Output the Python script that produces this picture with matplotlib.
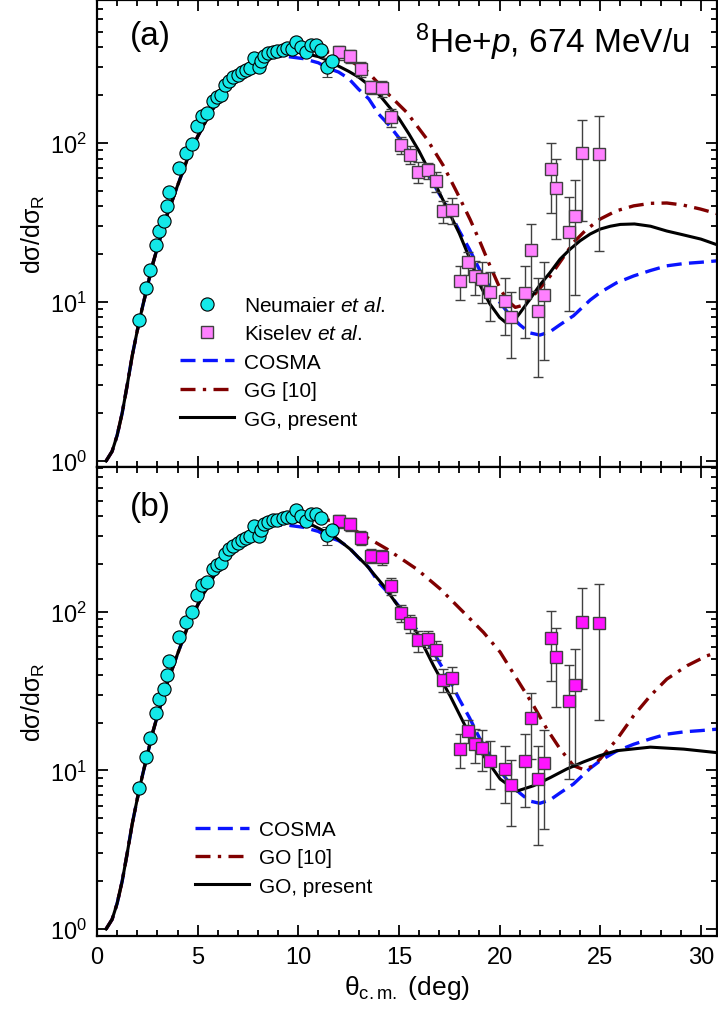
import numpy as np
import matplotlib
matplotlib.use("Agg")
import matplotlib.pyplot as plt
from matplotlib.lines import Line2D
from matplotlib.ticker import LogLocator, LogFormatterMathtext, MultipleLocator, NullFormatter

plt.rcParams['font.family'] = ['Liberation Sans', 'DejaVu Sans']
plt.rcParams['mathtext.fontset'] = 'custom'
plt.rcParams['mathtext.rm'] = 'Liberation Sans'
plt.rcParams['mathtext.it'] = 'Liberation Sans:italic'

# Neumaier et al. data (theta in deg, ratio to Rutherford)
neu_theta = [2.10, 2.44, 2.63, 2.92, 3.10, 3.31, 3.50, 3.60, 4.06, 4.44, 4.72, 4.97,
             5.22, 5.47, 5.75, 5.95, 6.16, 6.36, 6.58, 6.78, 6.99, 7.19, 7.39, 7.60,
             7.80, 8.04, 8.14, 8.30, 8.51, 8.73, 8.96, 9.23, 9.46, 9.67, 9.89, 10.12,
             10.39, 10.62, 10.88, 11.12, 11.42, 11.65]
neu_ratio = [7.7, 12.2, 15.9, 22.9, 28.1, 32.5, 40, 49, 69.6, 86.5, 99, 128,
             148, 154, 185, 196, 201, 232, 247, 259, 270, 281, 289, 299,
             344, 301, 328, 354, 368, 377, 379, 387, 394, 392, 434, 403,
             375, 413, 413, 387, 302, 328]
neu_err = [0, 0, 0, 0, 0, 0, 0, 0, 0, 0, 0, 0,
           0, 0, 0, 0, 0, 0, 0, 0, 0, 0, 0, 0,
           0, 0, 0, 0, 0, 0, 0, 0, 0, 0, 0, 0,
           0, 0, 0, 0, 40, 0]

# Kiselev et al. data
kis_theta = [12.03, 12.59, 13.11, 13.63, 14.15, 14.63, 15.09, 15.56, 15.97, 16.42,
             16.82, 17.21, 17.66, 18.04, 18.42, 18.79, 19.15, 19.53, 20.25, 20.58,
             21.24, 21.55, 21.89, 22.23, 22.55, 22.81, 23.44, 23.74, 24.07, 24.92]
kis_ratio = [372, 354, 292, 225, 221, 145, 97.5, 84.4, 65.9, 67.4,
             57.4, 37.3, 37.9, 13.6, 17.8, 14.6, 13.9, 11.5, 10.2, 8.05,
             11.4, 21.3, 8.8, 11.1, 68.6, 52.1, 27.4, 34.6, 86.5, 84.9]
kis_err = [37, 33, 30, 22, 25, 18, 12, 11, 10, 8,
           8, 6, 7, 3.3, 3, 3.5, 4, 3.9, 4, 3.6,
           5.5, 9.5, 5.4, 6.8, 32, 27, 18.6, 23.6, 54, 64]

# rising part shared by all calculations
rise_theta = [0.45, 0.75, 1.0, 1.25, 1.5, 1.75, 2.0, 2.25, 2.5, 2.75, 3.0, 3.25, 3.5,
              3.75, 4.0, 4.5, 5.0, 5.5, 6.0, 6.5, 7.0, 7.5, 8.0, 8.5]
rise_ratio = [1.0, 1.15, 1.45, 2.0, 3.0, 4.6, 6.6, 9.2, 12.5, 17, 22, 28, 36,
              44, 54, 80, 110, 145, 185, 225, 265, 300, 330, 355]

cosma_theta = [9.0, 9.5, 10.25, 11.0, 11.5, 12.0, 12.5, 13.0, 13.5, 14.0, 14.5, 15.0,
               15.5, 16.0, 16.5, 17.0, 17.38, 18.0, 18.5, 19.0, 19.5, 20.0, 20.5,
               21.0, 21.5, 22.0, 22.5, 23.0, 23.67, 24.5, 25.0, 25.8, 26.66, 27.5,
               28.3, 29.2, 30.0, 30.86]
cosma_ratio = [352, 350, 340, 320, 295, 280, 255, 218, 190, 152, 130, 108,
               88, 74, 62, 48, 40, 28, 21.5, 16, 12.5, 10, 8.3,
               7.2, 6.4, 6.2, 6.5, 7.2, 8.2, 10.3, 11.5, 13.2, 14.6, 15.8,
               16.9, 17.5, 17.8, 18.2]

gg10_theta = [9.0, 9.5, 10.0, 10.5, 11.0, 11.66, 12.57, 13.4, 14.56, 15.39, 16.39,
              17.21, 17.88, 18.54, 19.04, 19.5, 20.03, 20.4, 20.78, 21.1, 21.52,
              22.0, 22.52, 23.1, 23.67, 24.3, 25.0, 25.8, 26.66, 27.5, 28.31,
              29.1, 29.97, 30.86]
gg10_ratio = [370, 378, 382, 385, 380, 372, 330, 285, 198, 156, 106,
              72, 49, 33, 23.7, 17.2, 12.1, 10.2, 9.26, 9.5, 10.4,
              12.2, 14.6, 18.6, 23.7, 28.5, 33.3, 37.5, 40.3, 41.8, 42,
              40.8, 38.5, 35.8]

ggp_theta = [9.0, 9.5, 10.0, 10.5, 11.0, 11.5, 12.0, 12.5, 13.0, 13.5, 14.0, 14.5,
             15.0, 15.5, 16.0, 16.5, 17.0, 17.5, 18.0, 18.5, 19.0, 19.5, 20.0,
             20.3, 20.7, 21.0, 21.5, 22.0, 22.5, 23.0, 23.5, 24.0, 24.5, 25.0,
             25.5, 26.0, 26.7, 27.5, 28.3, 29.0, 30.0, 30.86]
ggp_ratio = [370, 378, 372, 362, 350, 330, 305, 283, 260, 232, 203, 170,
             143, 114, 89, 67, 49, 36.5, 27, 19, 13, 9.8, 8.0,
             7.45, 7.6, 8.5, 10.4, 12.8, 15.3, 18.6, 21.5, 24.3, 26.8, 28.8,
             30.0, 30.8, 31, 30, 28, 26.7, 24.9, 22.8]

go10_theta = [9.0, 9.5, 10.0, 10.5, 11.0, 11.91, 12.5, 13.0, 13.4, 14.4, 15.89,
              17.05, 18.21, 19.2, 20.03, 20.86, 21.69, 22.35, 23.01, 23.67, 24.17,
              24.6, 25.0, 25.83, 26.66, 27.49, 28.31, 29.31, 30.3, 30.86]
go10_ratio = [370, 378, 382, 383, 380, 374, 340, 315, 294, 248, 185,
              139, 99, 74, 55.5, 37.6, 25.5, 18.2, 13.6, 10.7, 10.1,
              10.6, 11.8, 15.7, 22.1, 29.5, 37.6, 45.6, 52.7, 55.5]

gop_theta = [9.0, 9.5, 10.0, 10.75, 11.74, 12.57, 13.4, 14.23, 15.06, 15.89, 16.72,
             17.54, 18.37, 19.2, 20.03, 20.86, 21.69, 22.52, 23.34, 24.17, 25.0,
             25.83, 27.49, 29.15, 30.86]
gop_ratio = [370, 378, 370, 348, 301, 248, 195, 146, 104, 74, 45.6,
             29.5, 18.2, 12.4, 8.8, 7.4, 8.0, 9.0, 10.2, 11.3, 12.4,
             13.3, 14.0, 13.6, 12.9]

W, H = 718, 1020
fig = plt.figure(figsize=(W / 100, H / 100), dpi=100)
ax1 = fig.add_axes([97 / W, 1 - 468 / H, 620 / W, 467 / H])
ax2 = fig.add_axes([97 / W, 1 - 937 / H, 620 / W, 469 / H])

blue_dash = (4.5, 2.2)
red_dashdot = (4.5, 2.2, 1.0, 2.2)


def full(theta, ratio):
    return rise_theta + theta, rise_ratio + ratio


def draw_panel(ax, red_t, red_r, blk_t, blk_r, sq_color):
    t, r = full(cosma_theta, cosma_ratio)
    ax.plot(t, r, color='#0a14ff', lw=2.4, dashes=blue_dash, zorder=2)
    t, r = full(red_t, red_r)
    ax.plot(t, r, color='#800000', lw=2.4, dashes=red_dashdot, zorder=2)
    t, r = full(blk_t, blk_r)
    ax.plot(t, r, color='black', lw=2.2, zorder=2)

    ax.errorbar(kis_theta, kis_ratio, yerr=kis_err, fmt='s', ms=8.5, mfc=sq_color,
                mec='#404040', mew=1.0, ecolor='#404040', elinewidth=1.0,
                capsize=3.5, capthick=1.0, zorder=3)
    ax.errorbar(neu_theta, neu_ratio, yerr=neu_err, fmt='o', ms=9.5, mfc='#14e8e8',
                mec='black', mew=0.8, ecolor='#404040', elinewidth=1.0,
                capsize=3.5, capthick=1.0, zorder=4)

    ax.set_yscale('log')
    ax.set_xlim(0, 30.8)
    ax.xaxis.set_major_locator(MultipleLocator(5))
    ax.xaxis.set_minor_locator(MultipleLocator(1))
    ax.yaxis.set_major_locator(LogLocator(base=10))
    ax.yaxis.set_minor_locator(LogLocator(base=10, subs=np.arange(2, 10)))
    ax.yaxis.set_major_formatter(LogFormatterMathtext())
    ax.yaxis.set_minor_formatter(NullFormatter())
    ax.tick_params(which='both', direction='in', top=True, right=True,
                   labelsize=17, width=1.3)
    ax.tick_params(which='major', length=8, pad=7)
    ax.tick_params(which='minor', length=4.5)
    for s in ax.spines.values():
        s.set_linewidth(1.6)
    ax.set_ylabel('dσ/dσ$_{\\mathregular{R}}$', fontsize=18, labelpad=2)


draw_panel(ax1, gg10_theta, gg10_ratio, ggp_theta, ggp_ratio, '#ff80ff')
draw_panel(ax2, go10_theta, go10_ratio, gop_theta, gop_ratio, '#ff14ff')

ax1.set_ylim(0.917, 795)
ax2.set_ylim(0.904, 815)
ax1.tick_params(labelbottom=False)
ax2.set_xlabel('θ$_{\\mathregular{c.m.}}$ (deg)', fontsize=19, labelpad=4)

ax1.text(0.0855, 0.923, '(a)', transform=ax1.transAxes, fontsize=24,
         ha='center', va='center')
ax2.text(0.0855, 0.915, '(b)', transform=ax2.transAxes, fontsize=24,
         ha='center', va='center')
ax1.text(0.513, 0.889, '$^{\\mathregular{8}}$He+$\\mathit{p}$, 674 MeV/u',
         transform=ax1.transAxes, fontsize=24, ha='left', va='baseline')

# legends built from proxy handles
neu_h = Line2D([], [], ls='none', marker='o', ms=9.5, mfc='#14e8e8', mec='black', mew=0.8)
kis_h = Line2D([], [], ls='none', marker='s', ms=8.5, mfc='#ff80ff', mec='#404040', mew=1.0)
cos_h = Line2D([], [], color='#0a14ff', lw=2.4, dashes=blue_dash)
red_h = Line2D([], [], color='#800000', lw=2.4, dashes=red_dashdot)
blk_h = Line2D([], [], color='black', lw=2.2)

ax1.legend([neu_h, kis_h, cos_h, red_h, blk_h],
           ['Neumaier $\\mathit{et\\ al.}$', 'Kiselev $\\mathit{et\\ al.}$',
            'COSMA', 'GG [10]', 'GG, present'],
           loc='upper left', bbox_to_anchor=(180 / W, 1 - 297 / H),
           bbox_transform=fig.transFigure, frameon=False, fontsize=15,
           handlelength=2.6, handletextpad=0.45, labelspacing=0.45,
           borderpad=0, borderaxespad=0)
ax2.legend([cos_h, red_h, blk_h], ['COSMA', 'GO [10]', 'GO, present'],
           loc='upper left', bbox_to_anchor=(195 / W, 1 - 821 / H),
           bbox_transform=fig.transFigure, frameon=False, fontsize=15,
           handlelength=2.6, handletextpad=0.45, labelspacing=0.45,
           borderpad=0, borderaxespad=0)

fig.savefig('out.png', dpi=100)
